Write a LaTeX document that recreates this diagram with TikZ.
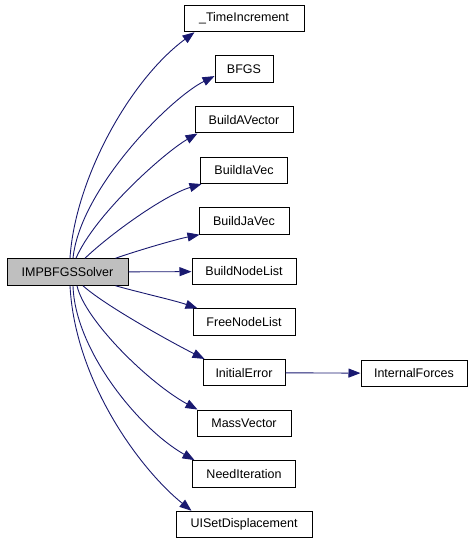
\documentclass[tikz,border=0pt]{standalone}
\usepackage{fontspec}
\setmainfont{Liberation Sans}
\usetikzlibrary{arrows.meta}
\definecolor{callblue}{RGB}{25,25,112}
\definecolor{solvergray}{RGB}{191,191,191}
\tikzset{
  fn/.style={draw, line width=1pt, minimum height=26.5pt, inner sep=0pt,
             font=\fontsize{12.5}{14}\selectfont},
  call/.style={draw=callblue, line width=0.9pt,
               -{Triangle[length=12pt,width=9pt]}, callblue}
}
\begin{document}
\begin{tikzpicture}[x=1pt, y=-1pt]
\useasboundingbox (0,0) rectangle (475,544);
\node[fn, fill=solvergray, minimum width=121pt] (s) at (67.5,272) {IMPBFGSSolver};
\foreach \n/\t/\w/\i in {ti/\_TimeIncrement/120/0, bfgs/BFGS/58/1, ba/BuildAVector/98/2,
                         bia/BuildIaVec/87/3, bja/BuildJaVec/90/4, bnl/BuildNodeList/104/5,
                         fnl/FreeNodeList/102/6, ie/InitialError/82/7, mv/MassVector/94/8,
                         ni/NeedIteration/103/9, uis/UISetDisplacement/136/10}
    \node[fn, minimum width=\w pt] (\n) at (244, 18.5+50.6*\i) {\t};
\node[fn, minimum width=106pt] (if) at (414, 373.3) {InternalForces};
% calls from the solver
\foreach \t/\a/\sx/\b/\tx/\ty/\c/\d in {
    ti/north/2.5/south west/11/0/{5,-79}/{-65,48},
    bfgs/north/5.5/west/0/-7/{7,-69}/{-45,22.5},
    ba/north/8.5/south west/3/0/{19,-44}/{-33,19},
    bia/north/17.5/south west/1.5/0/{25,-24}/{-37,11},
    bja/north east/-13/south west/1/0/{20,-7}/{-25,5},
    fnl/south east/-13/north west/5/0/{25,7}/{-23,-8},
    ie/south/15.5/north west/2/0/{22,20}/{-30,-15},
    mv/south/9.5/north west/1/0/{8,35}/{-48,-26},
    ni/south/5.5/north west/2.5/0/{2,65}/{-55,-31},
    uis/south/2.5/north west/16/0/{5,95}/{-52,-42}}
    \draw[call] ([xshift=\sx pt]s.\a) .. controls +(\c) and +(\d) .. ([xshift=\tx pt, yshift=\ty pt]\t.\b);
\draw[call] (s) -- (bnl);
\draw[call] (ie) -- (if);
\end{tikzpicture}
\end{document}
